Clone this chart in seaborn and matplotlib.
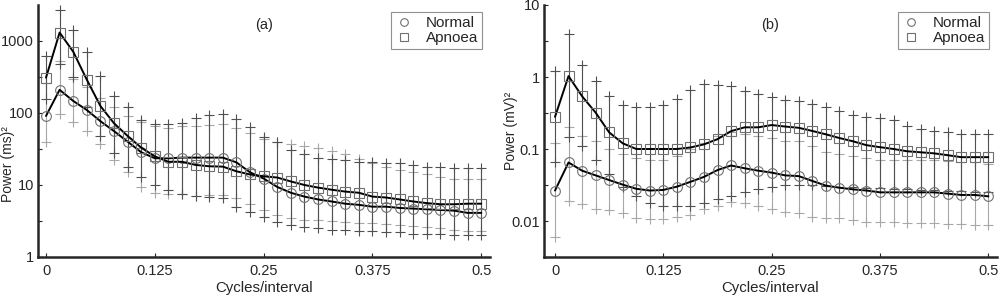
import numpy as np
import pandas as pd
import seaborn as sns
import matplotlib.pyplot as plt
from matplotlib.lines import Line2D
from matplotlib.ticker import FixedLocator, NullFormatter

# frequency grid (cycles/interval), 33 bins from 0 to 0.5
freq = np.linspace(0, 0.5, 33)

# panel (a): RR-interval spectrum, (ms)^2
a_normal = [91, 210, 147, 110, 77, 56, 40, 28.5, 23.5, 23.5, 24, 24, 24, 24, 20.6, 15, 12.3,
            9.4, 7.8, 6.9, 6.3, 5.9, 5.5, 5.3, 5.0, 5.0, 4.8, 4.7, 4.6, 4.5, 4.4, 4.1, 4.1]
a_normal_lo = [40, 97, 75, 56, 37, 22, 15, 9.5, 7.8, 7.4, 7.5, 7.0, 7.2, 7.3, 6.5, 5.5, 4.5,
               3.8, 3.5, 3.3, 3.3, 3.2, 3.1, 3.0, 3.0, 2.9, 2.8, 2.7, 2.6, 2.5, 2.4, 2.3, 2.3]
a_normal_hi = [260, 520, 300, 230, 160, 120, 90, 75, 65, 62, 65, 66, 68, 70, 62, 52, 44,
               40, 37, 35, 33, 30, 27, 23, 20, 18, 16, 15, 14, 13, 12, 12, 12]
a_apnoea = [310, 1310, 710, 290, 125, 72, 48, 33, 25, 21, 21, 19, 18.2, 18, 15.5, 14, 13.2,
            12.7, 11.2, 10, 9.2, 8.6, 8.1, 7.8, 6.9, 6.7, 6.3, 5.9, 5.6, 5.4, 5.4, 5.5, 5.5]
a_apnoea_lo = [155, 480, 320, 120, 48, 28, 18, 13, 10, 8.5, 7.5, 7.0, 6.8, 6.5, 5.0, 4.2, 3.6,
               3.1, 2.8, 2.6, 2.5, 2.4, 2.4, 2.3, 2.3, 2.2, 2.2, 2.1, 2.1, 2.1, 2.0, 2.0, 2.0]
a_apnoea_hi = [620, 2700, 1400, 710, 330, 170, 120, 80, 70, 70, 72, 85, 95, 97, 82, 63, 46,
               39, 31, 27, 24, 23, 22, 21, 21, 20, 20, 19, 18, 18, 17, 17, 17]

# panel (b): ECG-derived spectrum, (mV)^2
b_normal = [0.0265, 0.065, 0.050, 0.043, 0.037, 0.032, 0.028, 0.0265, 0.027, 0.030, 0.035,
            0.041, 0.051, 0.059, 0.054, 0.050, 0.047, 0.043, 0.042, 0.036, 0.031, 0.029,
            0.0275, 0.0265, 0.025, 0.025, 0.025, 0.025, 0.025, 0.024, 0.023, 0.023, 0.022]
b_normal_lo = [0.006, 0.0187, 0.0175, 0.0147, 0.014, 0.013, 0.011, 0.0105, 0.0108, 0.0115,
               0.0123, 0.0145, 0.016, 0.0185, 0.018, 0.016, 0.0145, 0.0135, 0.013, 0.0115,
               0.011, 0.011, 0.0102, 0.0098, 0.0098, 0.0098, 0.0095, 0.0095, 0.0095, 0.0092,
               0.009, 0.0088, 0.0088]
b_normal_hi = [0.12, 0.2, 0.15, 0.13, 0.1, 0.085, 0.075, 0.07, 0.07, 0.08, 0.1, 0.12, 0.15,
               0.17, 0.16, 0.15, 0.14, 0.13, 0.13, 0.11, 0.09, 0.085, 0.08, 0.075, 0.07, 0.07,
               0.07, 0.07, 0.07, 0.068, 0.065, 0.065, 0.062]
b_apnoea = [0.28, 1.03, 0.54, 0.32, 0.17, 0.12, 0.10, 0.10, 0.10, 0.10, 0.105, 0.116, 0.137,
            0.177, 0.20, 0.20, 0.215, 0.205, 0.197, 0.178, 0.16, 0.142, 0.128, 0.113, 0.106,
            0.10, 0.093, 0.090, 0.087, 0.082, 0.077, 0.077, 0.077]
b_apnoea_lo = [0.065, 0.145, 0.11, 0.07, 0.045, 0.03, 0.022, 0.018, 0.016, 0.016, 0.016,
               0.018, 0.02, 0.022, 0.025, 0.028, 0.03, 0.032, 0.032, 0.032, 0.031, 0.03, 0.03,
               0.029, 0.029, 0.028, 0.028, 0.027, 0.027, 0.026, 0.026, 0.025, 0.025]
b_apnoea_hi = [1.2, 4.0, 1.45, 0.88, 0.54, 0.41, 0.38, 0.38, 0.41, 0.49, 0.66, 0.8, 0.77,
               0.76, 0.64, 0.58, 0.52, 0.48, 0.46, 0.42, 0.38, 0.34, 0.30, 0.28, 0.27, 0.25,
               0.21, 0.19, 0.177, 0.17, 0.16, 0.16, 0.16]

xticks = [0, 0.125, 0.25, 0.375, 0.5]
xticklabels = ['0', '0.125', '0.25', '0.375', '0.5']

sns.set_style('ticks')
plt.rcParams['font.family'] = ['Liberation Sans', 'DejaVu Sans']
plt.rcParams['font.size'] = 10.5

fig = plt.figure(figsize=(10.04, 3.04), dpi=100)
ax_a = fig.add_axes([38 / 1004, 47 / 304, 452 / 1004, 252 / 304])
ax_b = fig.add_axes([544 / 1004, 47 / 304, 453 / 1004, 252 / 304])

# (a)'s y label sits a little low so it clears the "100" tick label
panels = [
    (ax_a, a_normal, a_normal_lo, a_normal_hi, a_apnoea, a_apnoea_lo, a_apnoea_hi,
     (1, 10 ** 3.5), [1, 10, 100, 1000], ['1', '10', '100', '1000'],
     'Power (ms)²', '(a)', -0.0092, (-0.066, 0.37)),
    (ax_b, b_normal, b_normal_lo, b_normal_hi, b_apnoea, b_apnoea_lo, b_apnoea_hi,
     (10 ** -2.5, 10), [0.01, 0.1, 1, 10], ['0.01', '0.1', '1', '10'],
     'Power (mV)²', '(b)', -0.0127, (-0.073, 0.5)),
]

for (ax, nv, nlo, nhi, av, alo, ahi, ylim, yt, ytl, ylab, tag, x0, lab_xy) in panels:
    df = pd.DataFrame({'freq': freq, 'Normal': nv, 'Apnoea': av})
    # error bars: vertical lines with "+"-shaped caps
    for lo, hi, c in [(nlo, nhi, '#a8a8a8'), (alo, ahi, '#505050')]:
        ax.vlines(freq, lo, hi, color=c, lw=0.8, zorder=1)
        ax.plot(freq, lo, ls='none', marker='+', ms=7, mew=0.8, color=c, zorder=1)
        ax.plot(freq, hi, ls='none', marker='+', ms=7, mew=0.8, color=c, zorder=1)
    sns.lineplot(data=df, x='freq', y='Normal', color='black', lw=1.4, marker='o', ms=7,
                 mfc='none', mec='#707070', mew=0.8, ax=ax, zorder=3)
    sns.lineplot(data=df, x='freq', y='Apnoea', color='black', lw=1.4, marker='s', ms=7,
                 mfc='none', mec='#707070', mew=0.8, ax=ax, zorder=3)
    ax.set_yscale('log')
    ax.set_ylim(*ylim)
    ax.set_xlim(x0, 0.51)
    ax.set_xticks(xticks)
    ax.set_xticklabels(xticklabels)
    ax.set_yticks(yt)
    ax.set_yticklabels(ytl)
    lo_e, hi_e = np.log10(ylim)
    ax.yaxis.set_minor_locator(FixedLocator(10 ** np.arange(np.floor(lo_e) + 0.5, hi_e, 1.0)))
    ax.yaxis.set_minor_formatter(NullFormatter())
    ax.tick_params(direction='in', length=3, width=0.8, pad=3, labelsize=10.5)
    ax.tick_params(which='minor', direction='in', length=3, width=0.8)
    ax.tick_params(axis='x', pad=5)
    sns.despine(ax=ax)
    for s in ['left', 'bottom']:
        ax.spines[s].set_linewidth(1.8)
    ax.set_xlabel('Cycles/interval', fontsize=10.8, labelpad=2)
    ax.set_ylabel(ylab, fontsize=10, va='center')
    ax.yaxis.set_label_coords(*lab_xy)
    ax.text(0.5, 0.92, tag, transform=ax.transAxes, ha='center', va='center', fontsize=10.5)
    handles = [Line2D([], [], ls='none', marker='o', ms=5.5, mfc='none', mec='#707070', mew=0.8),
               Line2D([], [], ls='none', marker='s', ms=5.5, mfc='none', mec='#707070', mew=0.8)]
    leg = ax.legend(handles, ['Normal', 'Apnoea'], loc='upper right',
                    bbox_to_anchor=(0.982, 0.972), fontsize=11, frameon=True, fancybox=False,
                    framealpha=1, edgecolor='#909090', handlelength=1.2, handletextpad=0.8,
                    borderpad=0.25, labelspacing=0.1, borderaxespad=0)
    leg.get_frame().set_linewidth(0.8)

fig.savefig('out.png', dpi=100)
